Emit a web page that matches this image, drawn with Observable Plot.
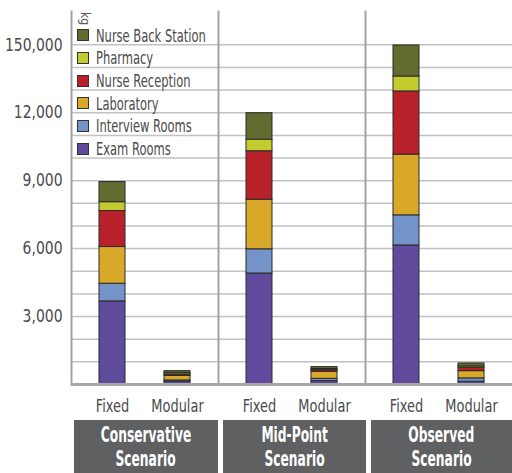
<!DOCTYPE html>
<html><head><meta charset="utf-8">
<script src="https://cdn.jsdelivr.net/npm/d3@7"></script>
<script src="https://cdn.jsdelivr.net/npm/@observablehq/plot@0.6"></script>
<style>
html,body{margin:0;padding:0;background:#fff;}
body{font-family:"DejaVu Sans Condensed","DejaVu Sans",sans-serif;font-stretch:condensed;}
#wrap{position:relative;width:512px;height:473px;overflow:hidden;}
#legend{position:absolute;left:77px;top:24px;}
.row{height:22.67px;display:flex;align-items:center;}
.sw{width:10px;height:10px;border:1px solid #333;box-sizing:content-box;flex:none;}
.lt{font-size:18px;color:#4a4a4a;margin-left:7px;transform:scaleX(0.71);transform-origin:left center;white-space:nowrap;}
#kg{position:absolute;left:91px;top:12px;font-size:12px;line-height:13px;color:#555;transform:rotate(90deg);transform-origin:left top;}
#boxes{position:absolute;top:420px;left:0;width:512px;height:53px;}
.box{position:absolute;top:0;height:53px;background:#5f6062;color:#fff;display:flex;flex-direction:column;align-items:center;justify-content:center;}
.bt{font-weight:bold;font-size:22px;line-height:24px;transform:scaleX(0.62);white-space:nowrap;}
</style></head><body>
<div id="wrap"></div>
<script>
const scenarios = ["Conservative Scenario", "Mid-Point Scenario", "Observed Scenario"];
const types = ["Fixed", "Modular"];
const spaces = ["Exam Rooms", "Interview Rooms", "Laboratory", "Nurse Reception", "Pharmacy", "Nurse Back Station"];
const colors = ["#5f4a9c", "#7393c9", "#d9a828", "#b8202a", "#c3cc2e", "#636b2f"];
// bar order: Conservative Fixed, Conservative Modular, Mid-Point Fixed, Mid-Point Modular, Observed Fixed, Observed Modular
const examRooms        = [3670, 120, 4900, 150, 6140, 120];
const interviewRooms   = [780,   60, 1070, 100, 1330, 150];
const laboratory       = [1620, 200, 2190, 310, 2680, 320];
const nurseReception   = [1590,  60, 2140,  75, 2790, 150];
const pharmacy         = [390,   60,  510,  45,  660,  60];
const nurseBackStation = [890,   90, 1170,  90, 1370, 130];
const yTicks = [3000, 6000, 9000, 12000, 15000];
const yTickLabels = ["3,000", "6,000", "9,000", "12,000", "150,000"];
const gridValues = [1000,2000,3000,4000,5000,6000,7000,8000,9000,10000,11000,12000,13000,14000,15000];
const unitLabel = "kg";

const series = [examRooms, interviewRooms, laboratory, nurseReception, pharmacy, nurseBackStation];
const data = [];
scenarios.forEach((sc, si) => types.forEach((t, ti) => {
  const i = si * 2 + ti;
  spaces.forEach((sp, k) => data.push({scenario: sc, type: t, space: sp, value: series[k][i]}));
}));

const font = '"DejaVu Sans Condensed","DejaVu Sans",sans-serif';
const chart = Plot.plot({
  width: 512, height: 418,
  marginLeft: 71, marginRight: 0, marginTop: 11, marginBottom: 34,
  style: {fontFamily: font, background: "#fff", color: "#4a4a4a"},
  fx: {domain: scenarios, padding: 0, axis: null},
  x: {domain: types, paddingInner: 0.6, paddingOuter: 0.43},
  y: {domain: [0, 16470]},
  color: {domain: spaces, range: colors},
  marks: [
    Plot.ruleY(gridValues, {stroke: "#c2c2c2", strokeWidth: 1.5}),
    Plot.barY(data, {fx: "scenario", x: "type", y: "value", fill: "space", stroke: "#2a2a2a", strokeWidth: 1}),
    Plot.frame({anchor: "left", stroke: "#a3a3a3", strokeWidth: 2}),
    Plot.ruleY([0], {stroke: "#a8a8a8", strokeWidth: 3}),
    Plot.axisY({ticks: yTicks, tickFormat: d => yTickLabels[yTicks.indexOf(d)], tickSize: 0, tickPadding: 9, fontSize: 18, label: null, ariaLabel: "y-axis"}),
    Plot.axisX({tickSize: 0, tickPadding: 15, fontSize: 18, label: null, ariaLabel: "x-axis"})
  ]
});

const wrap = document.getElementById("wrap");
wrap.appendChild(chart);

// condense the axis labels horizontally (the original uses a very narrow typeface)
chart.querySelectorAll('g[aria-label="y-axis tick label"] text').forEach(t => {
  t.setAttribute("textLength", (t.getComputedTextLength() * 0.86).toFixed(1));
  t.setAttribute("lengthAdjust", "spacingAndGlyphs");
});
chart.querySelectorAll('g[aria-label="x-axis tick label"] text').forEach(t => {
  t.setAttribute("textLength", (t.getComputedTextLength() * 0.8).toFixed(1));
  t.setAttribute("lengthAdjust", "spacingAndGlyphs");
});

const legend = document.createElement("div");
legend.id = "legend";
spaces.slice().reverse().forEach(sp => {
  const r = document.createElement("div"); r.className = "row";
  const s = document.createElement("div"); s.className = "sw"; s.style.background = colors[spaces.indexOf(sp)];
  const t = document.createElement("div"); t.className = "lt"; t.textContent = sp;
  r.appendChild(s); r.appendChild(t); legend.appendChild(r);
});
wrap.appendChild(legend);

const kg = document.createElement("div"); kg.id = "kg"; kg.textContent = unitLabel;
wrap.appendChild(kg);

const boxes = document.createElement("div"); boxes.id = "boxes";
const boxX = [[74, 218], [223, 366], [371, 512]];
scenarios.forEach((sc, i) => {
  const b = document.createElement("div"); b.className = "box";
  b.style.left = boxX[i][0] + "px"; b.style.width = (boxX[i][1] - boxX[i][0]) + "px";
  sc.split(" ").forEach(w => { const l = document.createElement("div"); l.className = "bt"; l.textContent = w; b.appendChild(l); });
  boxes.appendChild(b);
});
wrap.appendChild(boxes);
</script>
</body></html>
